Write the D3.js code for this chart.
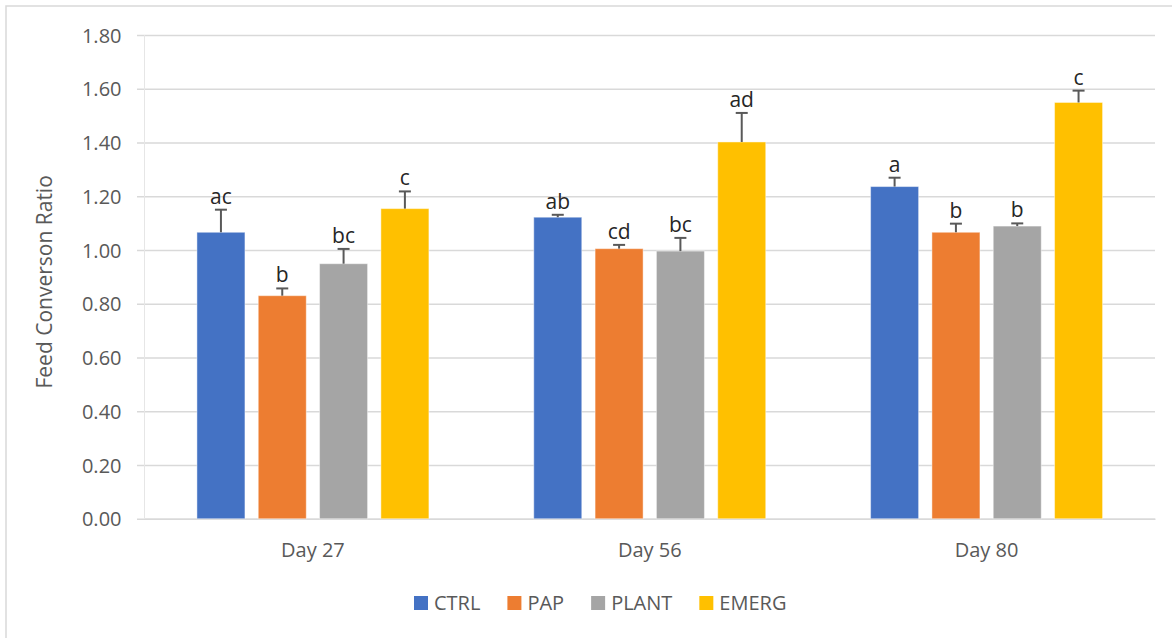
<!DOCTYPE html>
<html>
<head>
<meta charset="utf-8">
<script src="https://cdn.jsdelivr.net/npm/d3@7"></script>
<style>
  html, body { margin: 0; padding: 0; background: #fff; }
  svg { display: block; font-family: "Open Sans", "Noto Sans", sans-serif; }
</style>
</head>
<body>
<svg id="chart" width="1172" height="638"></svg>
<script>
// ---- Data ----
const categories = ["Day 27", "Day 56", "Day 80"];
const seriesNames = ["CTRL", "PAP", "PLANT", "EMERG"];
const ctrlValues  = [1.066, 1.122, 1.236];
const papValues   = [0.830, 1.005, 1.066];
const plantValues = [0.949, 0.996, 1.089];
const emergValues = [1.154, 1.402, 1.549];
const ctrlErr  = [0.084, 0.009, 0.033];
const papErr   = [0.027, 0.014, 0.032];
const plantErr = [0.055, 0.049, 0.010];
const emergErr = [0.064, 0.108, 0.044];
const ctrlLetters  = ["ac", "ab", "a"];
const papLetters   = ["b", "cd", "b"];
const plantLetters = ["bc", "bc", "b"];
const emergLetters = ["c", "ad", "c"];
const yTicks = [0, 0.2, 0.4, 0.6, 0.8, 1.0, 1.2, 1.4, 1.6, 1.8];
const colors = ["#4472C4", "#ED7D31", "#A5A5A5", "#FFC000"];
const yTitle = "Feed Converson Ratio";

const valuesBySeries = [ctrlValues, papValues, plantValues, emergValues];
const errBySeries = [ctrlErr, papErr, plantErr, emergErr];
const lettersBySeries = [ctrlLetters, papLetters, plantLetters, emergLetters];

const rows = [];
categories.forEach((c, ci) => {
  seriesNames.forEach((s, si) => {
    rows.push({ cat: c, series: s, si, value: valuesBySeries[si][ci], err: errBySeries[si][ci], letter: lettersBySeries[si][ci] });
  });
});

// ---- Layout ----
const svg = d3.select("#chart");
const plot = { left: 144.5, right: 1155, top: 35, bottom: 518.75 };

// outer border
svg.append("rect")
  .attr("x", 6).attr("y", 6).attr("width", 1180).attr("height", 650)
  .attr("fill", "none").attr("stroke", "#d9d9d9").attr("stroke-width", 1.5);

const x0 = d3.scaleBand().domain(categories).range([plot.left, plot.right]).padding(0);
const x1 = d3.scaleBand().domain(seriesNames).range([0, x0.bandwidth()])
  .paddingInner(0.217).paddingOuter(0.855);
const y = d3.scaleLinear().domain([0, 1.8]).range([plot.bottom, plot.top]);

// gridlines + y ticks
const yAxis = d3.axisLeft(y).tickValues(yTicks).tickFormat(d3.format(".2f"))
  .tickSize(-(plot.right - plot.left)).tickPadding(0);
const gy = svg.append("g").attr("transform", `translate(${plot.left},0)`).call(yAxis);
gy.select(".domain").remove();
gy.selectAll(".tick line").attr("stroke", "#d9d9d9").attr("stroke-width", 1.5)
  .attr("x1", -7.5);
gy.selectAll(".tick text").attr("x", -23).attr("fill", "#595959")
  .attr("font-size", 20).attr("dy", "0.35em")
  .attr("font-family", "'Open Sans', 'Noto Sans', sans-serif");

// left axis line (light)
svg.append("line")
  .attr("x1", plot.left).attr("x2", plot.left)
  .attr("y1", plot.top).attr("y2", plot.bottom)
  .attr("stroke", "#e6e6e6").attr("stroke-width", 1);

// x axis
const xAxis = d3.axisBottom(x0).tickSize(0).tickPadding(0);
const gx = svg.append("g").attr("transform", `translate(0,${plot.bottom})`).call(xAxis);
gx.select(".domain").attr("stroke", "#d9d9d9").attr("stroke-width", 1.5);
gx.selectAll(".tick text").attr("fill", "#595959").attr("font-size", 20)
  .attr("y", 38.5).attr("dy", 0)
  .attr("font-family", "'Open Sans', 'Noto Sans', sans-serif");

// bars
const bars = svg.append("g");
bars.selectAll("rect").data(rows).join("rect")
  .attr("x", d => x0(d.cat) + x1(d.series))
  .attr("width", x1.bandwidth())
  .attr("y", d => y(d.value))
  .attr("height", d => plot.bottom - y(d.value))
  .attr("fill", d => colors[d.si])
  .attr("stroke", "#ffffff").attr("stroke-opacity", 0.45).attr("stroke-width", 1);

// error bars
const eb = svg.append("g").attr("stroke", "#595959").attr("stroke-width", 2);
rows.forEach(d => {
  const cx = x0(d.cat) + x1(d.series) + x1.bandwidth() / 2;
  eb.append("line").attr("x1", cx).attr("x2", cx)
    .attr("y1", y(d.value)).attr("y2", y(d.value + d.err));
  eb.append("line").attr("x1", cx - 6).attr("x2", cx + 6)
    .attr("y1", y(d.value + d.err)).attr("y2", y(d.value + d.err));
});

// letters
svg.append("g").selectAll("text").data(rows).join("text")
  .attr("x", d => x0(d.cat) + x1(d.series) + x1.bandwidth() / 2)
  .attr("y", d => y(d.value + d.err) - 6)
  .attr("text-anchor", "middle")
  .attr("font-size", 21)
  .attr("fill", "#262626")
  .text(d => d.letter);

// y title
svg.append("text")
  .attr("transform", `translate(52,${(plot.top + plot.bottom) / 2 + 5}) rotate(-90)`)
  .attr("text-anchor", "middle")
  .attr("font-size", 21)
  .attr("fill", "#595959")
  .text(yTitle);

// legend
const legend = svg.append("g");
let lx = 414;
seriesNames.forEach((s, i) => {
  legend.append("rect").attr("x", lx).attr("y", 596).attr("width", 14).attr("height", 14)
    .attr("fill", colors[i]);
  const t = legend.append("text").attr("x", lx + 20).attr("y", 610)
    .attr("font-size", 20).attr("fill", "#595959").text(s);
  lx += 20 + t.node().getComputedTextLength() + 27;
});
</script>
</body>
</html>
